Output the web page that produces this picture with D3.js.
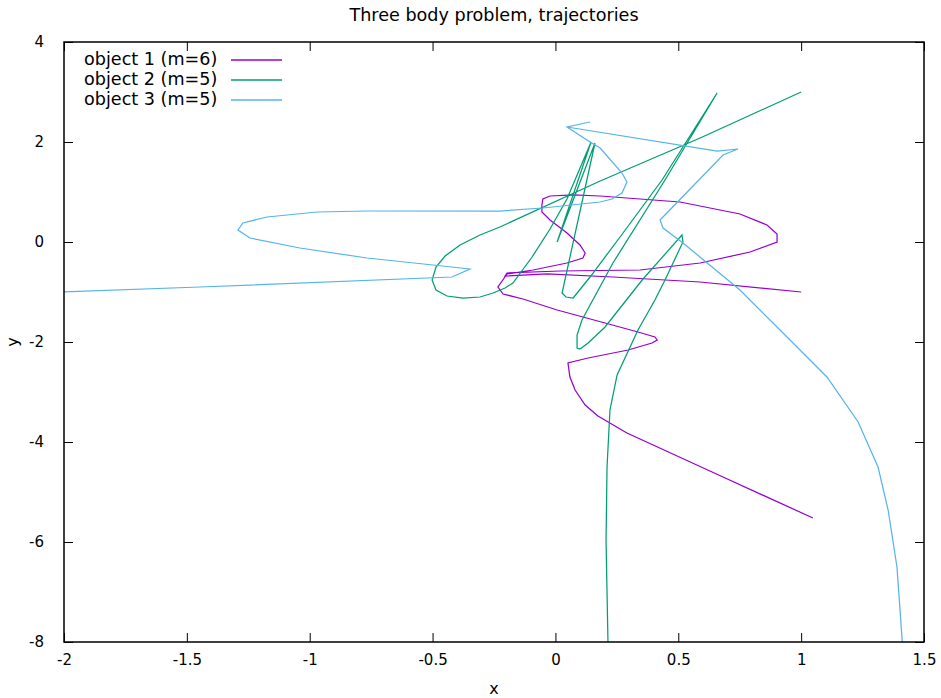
<!DOCTYPE html>
<html>
<head>
<meta charset="utf-8">
<script src="https://cdn.jsdelivr.net/npm/d3@7"></script>
<style>
  html, body { margin: 0; padding: 0; background: #fff; }
  svg { display: block; }
  text { font-family: "DejaVu Sans", sans-serif; fill: #000; }
</style>
</head>
<body>
<svg id="chart" width="941" height="698"></svg>
<script>
const title = "Three body problem, trajectories";
const xLabel = "x";
const yLabel = "y";
const seriesNames = ["object 1 (m=6)", "object 2 (m=5)", "object 3 (m=5)"];
const seriesColors = ["#9400d3", "#009e73", "#56b4e9"];
const xTicks = [-2, -1.5, -1, -0.5, 0, 0.5, 1, 1.5];
const yTicks = [-8, -6, -4, -2, 0, 2, 4];

// object 1 trajectory [x, y]
const object1 = [
  [1.0,-1.0],[0.589,-0.80],[0.234,-0.70],[-0.034,-0.64],[-0.205,-0.68],[-0.197,-0.62],
  [0.019,-0.58],[0.344,-0.56],[0.589,-0.42],[0.792,-0.20],[0.902,0.0],[0.902,0.16],
  [0.861,0.34],[0.751,0.56],[0.507,0.80],[0.182,0.92],[0.072,0.94],[-0.022,0.92],
  [-0.051,0.86],[-0.055,0.74],[-0.055,0.60],[-0.022,0.44],[0.047,0.18],[0.100,-0.06],
  [0.121,-0.22],[0.112,-0.32],[0.047,-0.42],[-0.091,-0.56],[-0.197,-0.64],[-0.234,-0.90],
  [-0.213,-1.04],[-0.132,-1.14],[0.007,-1.36],[0.202,-1.62],[0.336,-1.80],[0.405,-1.90],
  [0.414,-1.96],[0.393,-2.02],[0.296,-2.16],[0.133,-2.32],[0.051,-2.42],[0.059,-2.70],
  [0.080,-2.96],[0.121,-3.26],[0.173,-3.48],[0.291,-3.82],[0.682,-4.70],[1.048,-5.52]
];
// object 2 trajectory [x, y]
const object2 = [
  [1.0,3.0],[0.589,2.08],[0.182,1.22],[-0.226,0.30],[-0.307,0.14],[-0.388,-0.06],
  [-0.449,-0.28],[-0.486,-0.50],[-0.502,-0.76],[-0.486,-0.96],[-0.441,-1.08],[-0.376,-1.12],
  [-0.307,-1.10],[-0.254,-1.02],[-0.205,-0.92],[-0.173,-0.82],
  [-0.095,-0.30],[-0.022,0.26],[0.047,0.86],[0.145,2.00],[0.007,0.0],[0.161,1.98],
  [0.027,-1.02],[0.043,-1.10],[0.072,-1.12],[0.141,-0.70],[0.263,0.10],[0.434,1.24],
  [0.658,2.98],[0.446,1.24],[0.234,-0.42],[0.108,-1.56],[0.088,-1.86],[0.088,-2.12],
  [0.100,-2.14],[0.133,-2.02],[0.202,-1.70],[0.353,-0.76],[0.515,0.14],[0.519,0.0],
  [0.446,-0.76],[0.405,-1.16],[0.336,-1.76],[0.251,-2.66],[0.222,-3.36],[0.210,-4.50],
  [0.206,-5.96],[0.215,-8.3]
];
// object 3 trajectory [x, y]
const object3 = [
  [-2.0,-1.0],[-1.447,-0.90],[-0.421,-0.70],[-0.348,-0.54],[-0.498,-0.46],[-0.767,-0.32],
  [-1.040,-0.12],[-1.243,0.08],[-1.292,0.24],[-1.272,0.38],[-1.174,0.50],[-0.970,0.60],
  [-0.767,0.62],[-0.226,0.62],[-0.051,0.68],[0.182,0.80],[0.230,0.86],[0.271,0.98],
  [0.291,1.20],[0.271,1.38],[0.182,1.88],[0.141,2.00],[0.047,2.30],[0.141,2.40],
  [0.047,2.30],[0.658,1.82],[0.743,1.86],[0.682,1.74],[0.426,0.44],[0.438,0.28],
  [0.519,-0.02],[0.751,-0.96],[0.914,-1.76],[1.105,-2.70],[1.232,-3.60],[1.313,-4.50],
  [1.354,-5.36],[1.390,-6.50],[1.416,-8.3]
];
const series = [object1, object2, object3];

const W = 941, H = 698;
const margin = {left: 64, right: 17, top: 42, bottom: 56};
const svg = d3.select("#chart");
const x = d3.scaleLinear().domain([-2, 1.5]).range([margin.left, W - margin.right]);
const y = d3.scaleLinear().domain([-8, 4]).range([H - margin.bottom, margin.top]);

svg.append("defs").append("clipPath").attr("id", "clip")
  .append("rect")
  .attr("x", margin.left).attr("y", margin.top)
  .attr("width", W - margin.left - margin.right)
  .attr("height", H - margin.top - margin.bottom);

const tickLen = 9;
const fmt = d => String(d);

const gB = svg.append("g").attr("transform", `translate(0,${H - margin.bottom})`)
  .call(d3.axisBottom(x).tickValues(xTicks).tickFormat(fmt).tickSizeInner(-tickLen).tickSizeOuter(0).tickPadding(18));
const gT = svg.append("g").attr("transform", `translate(0,${margin.top})`)
  .call(d3.axisTop(x).tickValues(xTicks).tickFormat("").tickSizeInner(-tickLen).tickSizeOuter(0));
const gL = svg.append("g").attr("transform", `translate(${margin.left},0)`)
  .call(d3.axisLeft(y).tickValues(yTicks).tickFormat(fmt).tickSizeInner(-tickLen).tickSizeOuter(0).tickPadding(20));
const gR = svg.append("g").attr("transform", `translate(${W - margin.right},0)`)
  .call(d3.axisRight(y).tickValues(yTicks).tickFormat("").tickSizeInner(-tickLen).tickSizeOuter(0));

[gB, gT, gL, gR].forEach(g => {
  g.select(".domain").remove();
  g.selectAll(".tick line").attr("stroke", "#000").attr("stroke-width", 1);
  g.selectAll(".tick text").attr("font-size", 15).attr("font-family", "DejaVu Sans, sans-serif").attr("fill", "#000");
});
gB.selectAll(".tick text").attr("dy", "0.32em");

const line = d3.line().x(d => x(d[0])).y(d => y(d[1]));
const gLines = svg.append("g").attr("clip-path", "url(#clip)");
series.forEach((s, i) => {
  gLines.append("path").datum(s)
    .attr("d", line)
    .attr("fill", "none")
    .attr("stroke", seriesColors[i])
    .attr("stroke-width", 1.25)
    .attr("stroke-linejoin", "miter")
    .attr("stroke-miterlimit", 4);
});

svg.append("rect")
  .attr("x", margin.left).attr("y", margin.top)
  .attr("width", W - margin.left - margin.right)
  .attr("height", H - margin.top - margin.bottom)
  .attr("fill", "none").attr("stroke", "#000").attr("stroke-width", 1.5);

const lg = svg.append("g");
seriesNames.forEach((name, i) => {
  const yy = 59 + i * 20;
  lg.append("text").attr("x", 84).attr("y", yy).attr("dy", "0.35em")
    .attr("font-size", 17.6).text(name);
  lg.append("line").attr("x1", 231).attr("x2", 282).attr("y1", yy + 1).attr("y2", yy + 1)
    .attr("stroke", seriesColors[i]).attr("stroke-width", 1.5);
});

svg.append("text").attr("x", (margin.left + W - margin.right) / 2).attr("y", 15)
  .attr("dy", "0.35em").attr("text-anchor", "middle").attr("font-size", 17.6).text(title);
svg.append("text").attr("x", (margin.left + W - margin.right) / 2).attr("y", 688)
  .attr("dy", "0.35em").attr("text-anchor", "middle").attr("font-size", 16).text(xLabel);
svg.append("text").attr("transform", `translate(12,${(margin.top + H - margin.bottom) / 2}) rotate(-90)`)
  .attr("dy", "0.35em").attr("text-anchor", "middle").attr("font-size", 16).text(yLabel);
</script>
</body>
</html>
